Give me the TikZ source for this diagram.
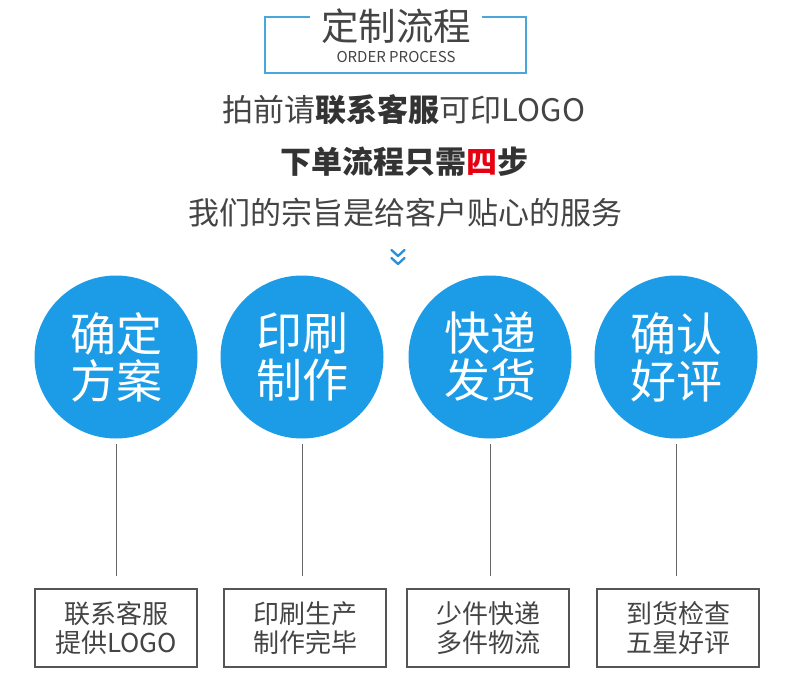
\documentclass[tikz,border=0pt]{standalone}
\usepackage{fontspec}
\setmainfont{Noto Sans CJK SC}
\definecolor{cblue}{HTML}{1C9BE6}
\definecolor{fblue}{HTML}{4AA7D9}
\definecolor{chev}{HTML}{2A8FD6}
\definecolor{txt}{HTML}{444444}
\definecolor{txtd}{HTML}{333333}
\definecolor{boxc}{HTML}{555555}
\definecolor{redc}{HTML}{E60012}
\tikzset{
  headline/.style={text=txt, font=\fontsize{31}{33}\selectfont, inner sep=0},
  circ/.style={circle, fill=cblue, minimum size=163pt, inner sep=0, text=white, align=center, font=\fontsize{46}{47}\selectfont},
  stepbox/.style={draw=boxc, line width=1.3pt, minimum width=162pt, minimum height=78pt, inner sep=0, text=txt, align=center, font=\fontsize{26}{29}\selectfont},
  conn/.style={draw=black!60, line width=0.9pt, shorten <=5pt, shorten >=12pt}
}
\begin{document}
\begin{tikzpicture}[x=1pt,y=-1pt]
\useasboundingbox (0,0) rectangle (790,680);
\fill[white] (0,0) rectangle (790,680);
% title frame
\draw[fblue, line width=1.4pt] (310,17) -- (265,17) -- (265,73) -- (526,73) -- (526,17) -- (482,17);
\node[text=txt, font=\fontsize{37.5}{39}\selectfont, inner sep=0] (title) at (396,26) {定制流程};
\node[text=txt, font=\fontsize{15}{16}\selectfont, inner sep=0] (subtitle) at (396,57) {ORDER PROCESS};
% headlines
\node[headline] (l1) at (404,110) {拍前请{\bfseries\color{txtd}联系客服}可印LOGO};
\node[headline, font=\fontsize{31}{33}\selectfont\bfseries, text=txtd] (l2) at (404,162) {下单流程只需{\color{redc}四}步};
\node[headline] (l3) at (405,213) {我们的宗旨是给客户贴心的服务};
% chevron
\draw[chev, line width=2.3pt, line cap=round, line join=round] (391.5,250) -- (398,256) -- (404.5,250);
\draw[chev, line width=2.3pt, line cap=round, line join=round] (391.5,258) -- (398,264) -- (404.5,258);
% circles
\node[circ] (c1) at (116,357) {确定\\方案};
\node[circ] (c2) at (302,357) {印刷\\制作};
\node[circ] (c3) at (490,357) {快递\\发货};
\node[circ] (c4) at (676,357) {确认\\好评};
% boxes
\node[stepbox] (b1) at (116,628) {联系客服\\提供LOGO};
\node[stepbox] (b2) at (305,628) {印刷生产\\制作完毕};
\node[stepbox] (b3) at (488,628) {少件快递\\多件物流};
\node[stepbox] (b4) at (678,628) {到货检查\\五星好评};
% connectors
\foreach \i in {1,2,3,4} {
  \draw[conn] (c\i.south) -- (c\i.south |- b\i.north);
}
\end{tikzpicture}
\end{document}
